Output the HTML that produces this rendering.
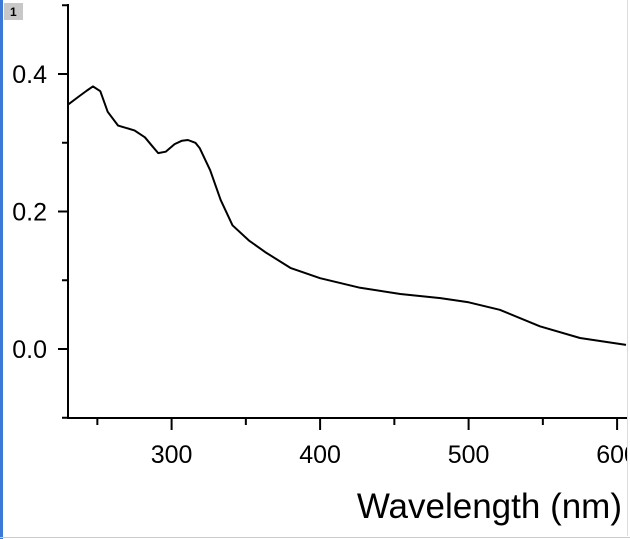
<!DOCTYPE html>
<html><head><meta charset="utf-8"><style>
html,body{margin:0;padding:0;background:#fff;}
svg{display:block;font-family:"Liberation Sans",sans-serif;}
</style></head><body>
<svg id="chart" width="630" height="539">
<rect x="0" y="0" width="3" height="539" fill="#3c78d8"/>
<line x1="0" y1="537.5" x2="630" y2="537.5" stroke="#ccc"/>
<rect x="4" y="3" width="19" height="17" fill="#c8c8c8"/>
<text x="10" y="16" font-size="12" font-weight="bold" fill="#000">1</text>
<g id="axes"></g>
<path id="curve" fill="none" stroke="#000" stroke-width="2" stroke-linejoin="round"/>
<rect x="627" y="0" width="3" height="536" fill="#fff"/>
<line x1="627.5" y1="0" x2="627.5" y2="536" stroke="#ddd"/>
<text x="622" y="518" font-size="35" text-anchor="end" fill="#000">Wavelength (nm)</text>
</svg>
<script>
const wavelengths=[230,238,243,247,252,257,264,275,282,287,291,296,302,307,311,316,319,326,333,341,352,363,380,400,427,454,481,500,521,548,575,606];
const absorbance=[0.355,0.368,0.376,0.382,0.375,0.345,0.325,0.318,0.308,0.295,0.285,0.287,0.298,0.303,0.304,0.300,0.292,0.26,0.217,0.18,0.158,0.141,0.118,0.103,0.089,0.08,0.074,0.068,0.057,0.033,0.016,0.006];
const xTickLabels=[300,400,500,600];
const xMinorTicks=[250,350,450,550];
const yTickLabels=[0.0,0.2,0.4];
const yMinorTicks=[-0.1,0.1,0.3,0.5];
const xs=v=>171.6+(v-300)*1.485;
const ys=v=>349-v*687.5;
const ns="http://www.w3.org/2000/svg";
const g=document.getElementById('axes');
function ln(x1,y1,x2,y2,name){const l=document.createElementNS(ns,'line');l.setAttribute('x1',x1);l.setAttribute('y1',y1);l.setAttribute('x2',x2);l.setAttribute('y2',y2);l.setAttribute('stroke','#000');l.setAttribute('stroke-width','2');


g.appendChild(l);}
function tx(x,y,s,anchor,name){const t=document.createElementNS(ns,'text');t.setAttribute('x',x);t.setAttribute('y',y);t.setAttribute('font-size','25');t.setAttribute('text-anchor',anchor);t.textContent=s;


g.appendChild(t);}
ln(68,4,68,418,'y-axis-line');
ln(67,418,627,418,'x-axis-line');
xTickLabels.forEach(v=>{const x=xs(v);ln(x,418,x,430,'x-major-tick');tx(x,463,String(v),'middle','x-tick-label');});
xMinorTicks.forEach(v=>{const x=xs(v);ln(x,418,x,425,'x-minor-tick');});
yTickLabels.forEach(v=>{const y=ys(v);ln(58,y,68,y,'y-major-tick');tx(47,y+9,v.toFixed(1),'end','y-tick-label');});
yMinorTicks.forEach(v=>{const y=ys(v);ln(62,y,68,y,'y-minor-tick');});
let d='';wavelengths.forEach((w,i)=>{d+=(i?'L':'M')+xs(w).toFixed(1)+','+ys(absorbance[i]).toFixed(1);});
document.getElementById('curve').setAttribute('d',d);
</script>
</body></html>
